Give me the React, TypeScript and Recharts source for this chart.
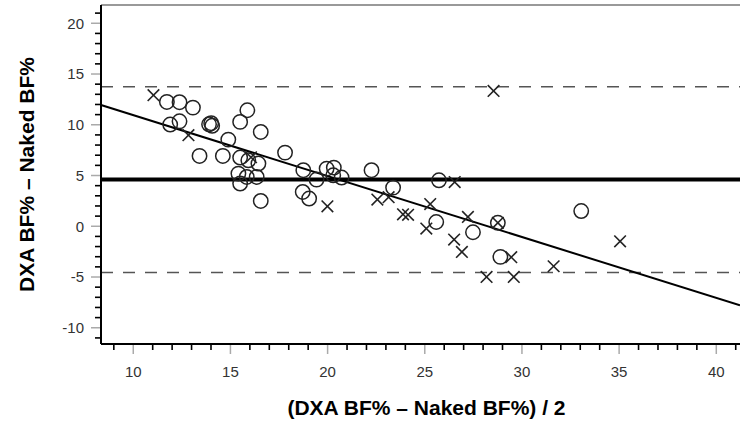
import React from "react";
import {
  ScatterChart,
  Scatter,
  XAxis,
  YAxis,
  ReferenceLine,
} from "recharts";

// Bland-Altman style: mean of the two methods vs their difference
const circleX = [
  11.73, 12.38, 13.07, 11.9, 12.38, 13.9, 14.01, 14.06, 13.41, 14.61, 15.87, 15.5,
  16.56, 14.89, 17.81, 15.5, 15.92, 16.44, 15.41, 15.5, 15.84, 16.35, 16.56, 18.75,
  19.43, 19.95, 20.32, 20.29, 20.72, 18.72, 19.05, 22.26, 23.37, 25.73, 25.59, 27.48,
  28.76, 28.89, 33.05,
];
const circleY = [
  12.25, 12.22, 11.69, 10.02, 10.34, 10.05, 10.15, 9.9, 6.93, 6.93, 11.43, 10.28,
  9.29, 8.54, 7.26, 6.77, 6.5, 6.18, 5.19, 4.21, 4.86, 4.86, 2.49, 5.52,
  4.6, 5.68, 5.78, 5.02, 4.8, 3.38, 2.73, 5.52, 3.81, 4.53, 0.42, -0.59,
  0.34, -3.02, 1.5,
];
const crossX = [
  11.04, 12.84, 16.06, 19.99, 22.56, 23.14, 23.88, 24.14, 25.08, 25.28, 28.54,
  26.54, 26.51, 26.91, 27.22, 28.76, 29.45, 28.18, 29.58, 31.63, 35.05,
];
const crossY = [
  12.91, 8.97, 6.8, 1.97, 2.63, 2.86, 1.18, 1.13, -0.23, 2.19, 13.33,
  4.36, -1.31, -2.53, 0.92, 0.34, -3.05, -4.99, -4.99, -3.94, -1.48,
];

const meanDiff = 4.6;
const upperLimit = 13.75;
const lowerLimit = -4.55;
const fitX = [8.34, 41.22];
const fitY = [11.94, -7.79];

const xDomain = [8.34, 41.22];
const yDomain = [-11.6, 21.8];
const xTicks = Array.from({ length: 33 }, (_, i) => 9 + i);
const yTicks = Array.from({ length: 33 }, (_, i) => -11 + i);

const circleData = circleX.map((x, i) => ({ x, y: circleY[i] }));
const crossData = crossX.map((x, i) => ({ x, y: crossY[i] }));

const tickFont = "'Liberation Sans', Arial, sans-serif";

const XTick = (props: any) => {
  const { x, y, payload } = props;
  const major = payload.value % 5 === 0;
  return (
    <g>
      <line
        x1={x}
        x2={x}
        y1={y + 1}
        y2={y + (major ? 10 : 6)}
        stroke={major ? "#aaa" : "#000"}
        strokeWidth={major ? 1.5 : 1.6}
      />
      {major && (
        <text x={x} y={y + 28} textAnchor="middle" dy="0.35em" fontSize={15} fill="#333" fontFamily={tickFont}>
          {payload.value}
        </text>
      )}
    </g>
  );
};

const YTick = (props: any) => {
  const { x, y, payload } = props;
  const major = payload.value % 5 === 0;
  return (
    <g>
      <line
        x1={x - (major ? 10 : 6)}
        x2={x - 1}
        y1={y}
        y2={y}
        stroke={major ? "#aaa" : "#000"}
        strokeWidth={major ? 1.5 : 1.6}
      />
      {major && (
        <text x={x - 17} y={y} textAnchor="end" dy="0.35em" fontSize={15} fill="#333" fontFamily={tickFont}>
          {payload.value}
        </text>
      )}
    </g>
  );
};

const YTitle = (props: any) => {
  const { viewBox } = props;
  const cx = viewBox.x + 27;
  const cy = viewBox.y + viewBox.height / 2;
  return (
    <text
      x={cx}
      y={cy}
      transform={`rotate(-90 ${cx} ${cy})`}
      textAnchor="middle"
      dy="0.35em"
      fontSize={21}
      fontWeight="bold"
      fill="#000"
      fontFamily={tickFont}
    >
      DXA BF% – Naked BF%
    </text>
  );
};

const XTitle = (props: any) => {
  const { viewBox } = props;
  const cx = viewBox.x + viewBox.width / 2 + 6;
  const cy = viewBox.y + 64;
  return (
    <text x={cx} y={cy} textAnchor="middle" dy="0.35em" fontSize={21} fontWeight="bold" fill="#000" fontFamily={tickFont}>
      (DXA BF% – Naked BF%) / 2
    </text>
  );
};

const CircleMark = (props: any) => (
  <circle cx={props.cx} cy={props.cy} r={7.2} fill="none" stroke="#222" strokeWidth={1.5} />
);

const CrossMark = (props: any) => {
  const { cx, cy } = props;
  const s = 5.8;
  return (
    <g stroke="#222" strokeWidth={1.6}>
      <line x1={cx - s} y1={cy - s} x2={cx + s} y2={cy + s} />
      <line x1={cx - s} y1={cy + s} x2={cx + s} y2={cy - s} />
    </g>
  );
};

export default function App() {
  return (
    <div style={{ position: "absolute", left: 0, top: 0, background: "#fff" }}>
      <ScatterChart width={740} height={425} margin={{ top: 5, right: 0, bottom: 0, left: 0 }}>
        <XAxis
          type="number"
          dataKey="x"
          domain={xDomain}
          ticks={xTicks}
          allowDataOverflow
          interval={0}
          height={81}
          tickSize={0}
          tickMargin={0}
          tickLine={false}
          tick={<XTick />}
          axisLine={{ stroke: "#000", strokeWidth: 2 }}
          label={<XTitle />}
        />
        <YAxis
          type="number"
          dataKey="y"
          domain={yDomain}
          ticks={yTicks}
          allowDataOverflow
          interval={0}
          width={101}
          tickSize={0}
          tickMargin={0}
          tickLine={false}
          tick={<YTick />}
          axisLine={{ stroke: "#000", strokeWidth: 2 }}
          label={<YTitle />}
        />
        <ReferenceLine y={yDomain[1]} stroke="#999" strokeWidth={2} />
        <ReferenceLine y={upperLimit} stroke="#555" strokeWidth={1.6} strokeDasharray="12 10" />
        <ReferenceLine y={lowerLimit} stroke="#555" strokeWidth={1.6} strokeDasharray="12 10" />
        <ReferenceLine y={meanDiff} stroke="#000" strokeWidth={4} />
        <ReferenceLine
          segment={[
            { x: fitX[0], y: fitY[0] },
            { x: fitX[1], y: fitY[1] },
          ]}
          stroke="#000"
          strokeWidth={2}
        />
        <Scatter data={circleData} shape={<CircleMark />} isAnimationActive={false} />
        <Scatter data={crossData} shape={<CrossMark />} isAnimationActive={false} />
      </ScatterChart>
    </div>
  );
}
